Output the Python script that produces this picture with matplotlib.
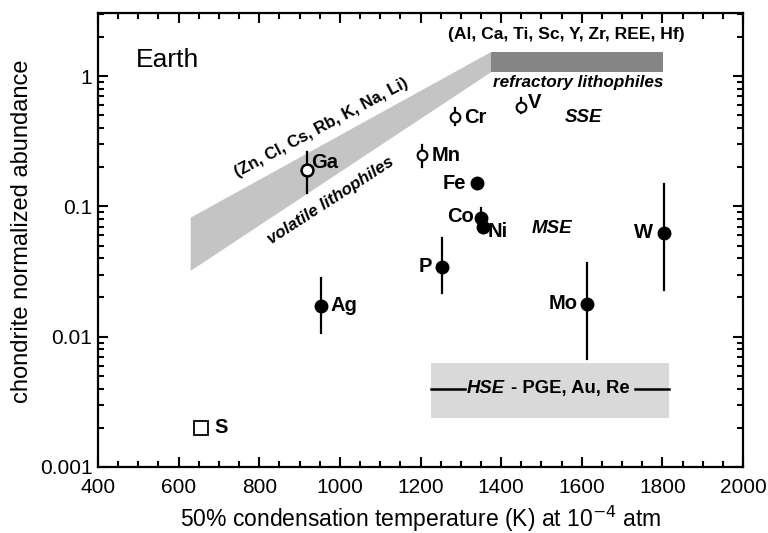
import numpy as np
import matplotlib.pyplot as plt
from matplotlib.ticker import LogLocator, MultipleLocator, FixedLocator

plt.rcParams['font.family'] = ['Liberation Sans', 'DejaVu Sans']

# filled symbols (metals)
fill_names = ['Fe', 'Co', 'Ni', 'W', 'P', 'Mo', 'Ag']
fill_T = [1340, 1350, 1355, 1804, 1253, 1613, 953]
fill_val = [0.150, 0.081, 0.069, 0.063, 0.0345, 0.0179, 0.0173]
fill_lo = [0.150, 0.081, 0.062, 0.023, 0.0215, 0.0068, 0.0106]
fill_hi = [0.150, 0.097, 0.069, 0.148, 0.057, 0.037, 0.028]

# open symbols
open_names = ['Ga', 'Mn', 'Cr', 'V']
open_T = [918, 1204, 1285, 1449]
open_val = [0.189, 0.247, 0.484, 0.578]
open_lo = [0.126, 0.200, 0.420, 0.520]
open_hi = [0.260, 0.295, 0.567, 0.677]

# sulfur
s_T = [655]
s_val = [0.002]

# volatile lithophile band (T, upper, lower)
band_T = [630, 1375]
band_hi = [0.082, 1.53]
band_lo = [0.032, 1.07]
# refractory lithophiles
refr_T = [1375, 1801]
refr_lo = 1.07
refr_hi = 1.53
# HSE box
hse_T = [1226, 1816]
hse_lo = 0.00238
hse_hi = 0.0063
hse_line = 0.004

fig = plt.figure(figsize=(7.68, 5.33), dpi=100)
ax = fig.add_axes([98/768, 66/533, 645/768, 454/533])

ax.set_yscale('log')
ax.set_xlim(400, 2000)
ax.set_ylim(0.001, 3.05)

# shaded regions
ax.fill([band_T[0], band_T[1], band_T[1], band_T[0]],
        [band_hi[0], band_hi[1], band_lo[1], band_lo[0]],
        color='#c4c4c4', lw=0, zorder=1)
ax.fill_between(refr_T, refr_lo, refr_hi, color='#858585', lw=0, zorder=1)
ax.fill_between(hse_T, hse_lo, hse_hi, color='#d9d9d9', lw=0, zorder=1)
ax.plot([hse_T[0], 1310], [hse_line, hse_line], color='black', lw=1.8, zorder=2)
ax.plot([1732, hse_T[1]], [hse_line, hse_line], color='black', lw=1.8, zorder=2)

# error bars
for t, lo, hi in zip(fill_T, fill_lo, fill_hi):
    ax.plot([t, t], [lo, hi], color='black', lw=1.6, zorder=3)
for t, lo, hi in zip(open_T, open_lo, open_hi):
    ax.plot([t, t], [lo, hi], color='black', lw=1.6, zorder=3)

ax.plot(fill_T, fill_val, 'o', color='black', ms=9, zorder=4)
ax.plot(open_T[1:], open_val[1:], 'o', mfc='white', mec='black', mew=1.5, ms=7, zorder=4)
ax.plot(open_T[:1], open_val[:1], 'o', mfc='white', mec='black', mew=1.8, ms=8.5, zorder=4)
ax.plot(s_T, s_val, 's', mfc='white', mec='black', mew=1.3, ms=9.5, zorder=4)

lab = dict(fontsize=14.5, fontweight='bold', va='center')
# labels: (name, T, value, dx, dy, ha)
labels = [
    ('Ga', 918, 0.189, 3, 6, 'left'),
    ('Mn', 1204, 0.247, 7, 0, 'left'),
    ('Cr', 1285, 0.484, 7, 0, 'left'),
    ('V', 1449, 0.578, 5, 3, 'left'),
    ('Fe', 1340, 0.150, -8, 0, 'right'),
    ('Co', 1350, 0.081, -5, 1, 'right'),
    ('Ni', 1355, 0.069, 3, -3, 'left'),
    ('W', 1804, 0.063, -8, 0, 'right'),
    ('P', 1253, 0.0345, -7, 0, 'right'),
    ('Mo', 1613, 0.0179, -7, 0, 'right'),
    ('Ag', 953, 0.0173, 7, 0, 'left'),
    ('S', 655, 0.002, 10, 0, 'left'),
]
for name, t, v, dx, dy, ha in labels:
    ax.annotate(name, (t, v), xytext=(dx, dy), textcoords='offset points', ha=ha, **lab)

ax.text(495, 1.33, 'Earth', fontsize=19, ha='left', va='center')
ax.text(955, 0.40, '(Zn, Cl, Cs, Rb, K, Na, Li)', fontsize=12, fontweight='bold',
        rotation=28, ha='center', va='center', rotation_mode='anchor')
ax.text(977, 0.111, 'volatile lithophiles', fontsize=12.2, fontweight='bold', style='italic',
        rotation=33, ha='center', va='center', rotation_mode='anchor')
ax.text(1562, 2.07, '(Al, Ca, Ti, Sc, Y, Zr, REE, Hf)', fontsize=12.6, fontweight='bold',
        ha='center', va='center')
ax.text(1592, 0.9, 'refractory lithophiles', fontsize=12.3, fontweight='bold', style='italic',
        ha='center', va='center')
ax.text(1604, 0.484, 'SSE', fontsize=13.5, fontweight='bold', style='italic', ha='center', va='center')
ax.text(1525, 0.068, 'MSE', fontsize=13.5, fontweight='bold', style='italic', ha='center', va='center')
ax.text(1409, hse_line, 'HSE', fontsize=13.3, fontweight='bold', style='italic', ha='right', va='center')
ax.text(1425, hse_line, '- PGE, Au, Re', fontsize=13.3, fontweight='bold', ha='left', va='center')

# ticks
ax.xaxis.set_major_locator(MultipleLocator(200))
ax.xaxis.set_minor_locator(MultipleLocator(50))
ax.yaxis.set_major_locator(FixedLocator([0.001, 0.01, 0.1, 1]))
ax.yaxis.set_minor_locator(LogLocator(base=10, subs=np.arange(2, 10) * 1.0, numticks=20))
ax.set_yticklabels(['0.001', '0.01', '0.1', '1'])
ax.tick_params(which='both', direction='in', top=True, right=True, width=1.5, labelsize=15)
ax.tick_params(which='major', length=7)
ax.tick_params(axis='x', which='major', pad=8)
ax.tick_params(axis='y', which='major', pad=4)
ax.tick_params(which='minor', length=4)
ax.yaxis.set_minor_formatter(plt.NullFormatter())
for sp in ax.spines.values():
    sp.set_linewidth(1.6)

ax.set_xlabel('50% condensation temperature (K) at 10$^{-4}$ atm', fontsize=16.5, labelpad=5)
ax.set_ylabel('chondrite normalized abundance', fontsize=17)
ax.yaxis.set_label_coords(-0.1, 0.52)

fig.savefig('out.png', dpi=100)
